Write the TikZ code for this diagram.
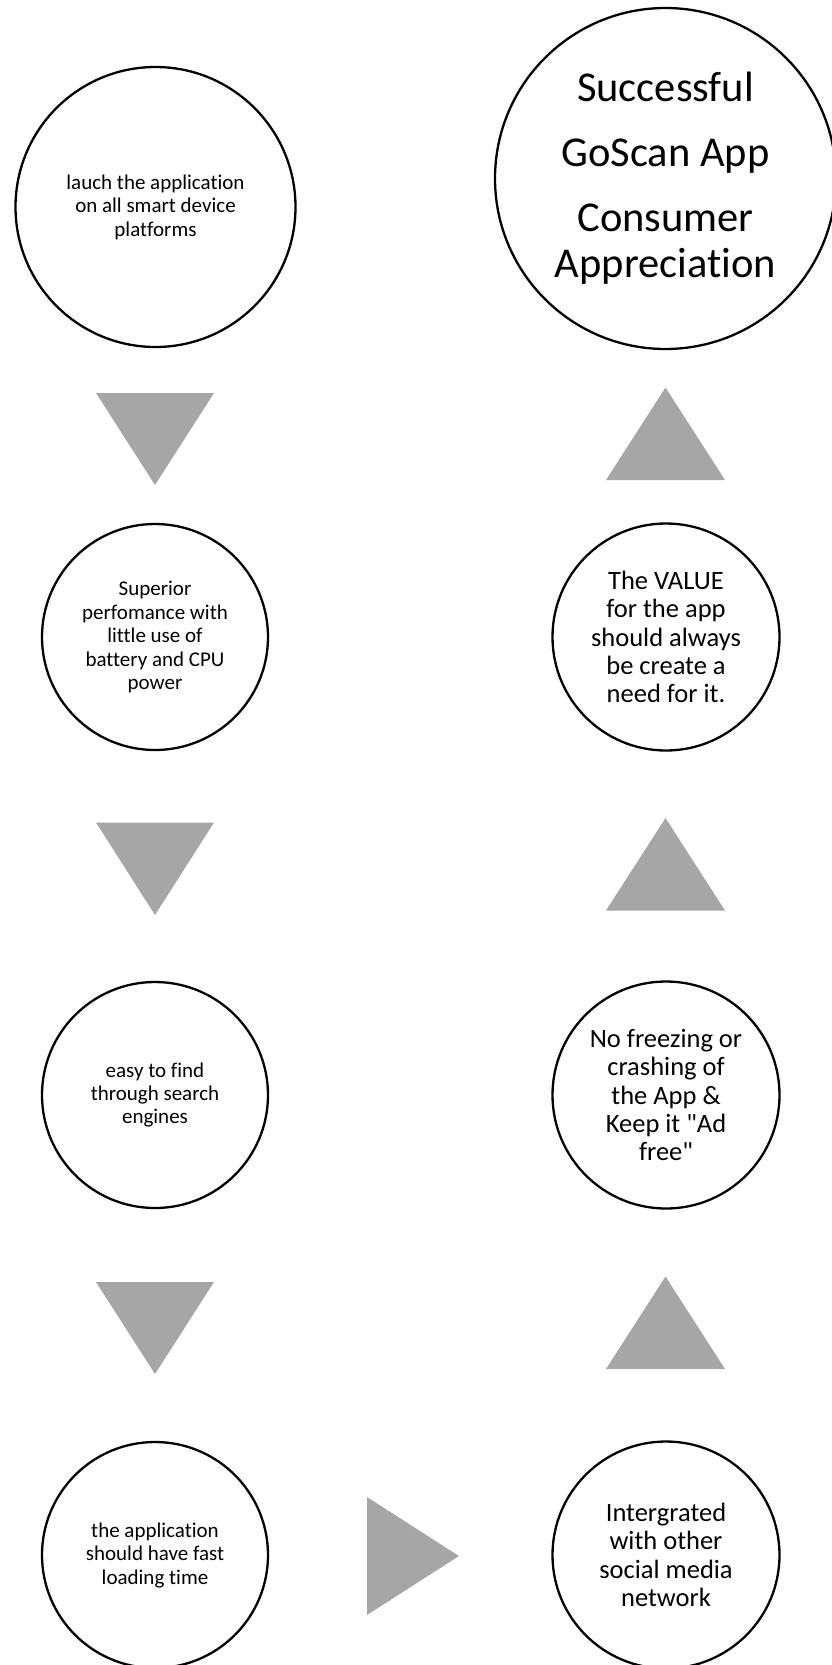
\documentclass[tikz,border=0pt]{standalone}
\usepackage{fontspec}
\setmainfont{Carlito}[Ligatures={NoCommon}]
\definecolor{arrowgray}{RGB}{166,166,166}
\begin{document}
\begin{tikzpicture}[x=1pt,y=-1pt,
  bubble/.style={circle, draw=black, line width=2.3pt, inner sep=0pt, align=center},
  smalltext/.style={font=\fontsize{21}{23.5}\selectfont},
  midtext/.style={font=\fontsize{26.5}{28.4}\selectfont},
  arrowfill/.style={fill=arrowgray}]
\useasboundingbox (0,0) rectangle (832,1665);
% left column
\node[bubble, minimum size=280pt, smalltext] (l1) at (155.5,207) {lauch the application\\on all smart device\\platforms};
\node[bubble, minimum size=226pt, smalltext] (l2) at (155,637) {Superior\\perfomance with\\little use of\\battery and CPU\\power};
\node[bubble, minimum size=226pt, smalltext] (l3) at (155,1095) {easy to find\\through search\\engines};
\node[bubble, minimum size=226pt, smalltext] (l4) at (155,1555) {the application\\should have fast\\loading time};
% right column
\node[bubble, minimum size=341pt, font=\fontsize{42.5}{46.5}\selectfont] (r1) at (665.5,178.5) {Successful\\[18pt]GoScan App\\[18.5pt]Consumer\\Appreciation};
\node[bubble, minimum size=227pt, midtext] (r2) at (666,637) {The VALUE\\for the app\\should always\\be create a\\need for it.};
\node[bubble, minimum size=227pt, midtext] (r3) at (666,1095) {No freezing or\\crashing of\\the App \&\\Keep it \textquotedbl Ad\\free\textquotedbl};
\node[bubble, minimum size=227pt, midtext] (r4) at (666,1555) {Intergrated\\with other\\social media\\network};
% down arrows (left)
\fill[arrowfill] (96,393) -- (214,393) -- (155,485) -- cycle;
\fill[arrowfill] (96,822.5) -- (214,822.5) -- (155,915) -- cycle;
\fill[arrowfill] (96,1282) -- (214,1282) -- (155,1374) -- cycle;
% right arrow (bottom)
\fill[arrowfill] (367,1497) -- (367,1615) -- (459,1556) -- cycle;
% up arrows (right)
\fill[arrowfill] (606,480) -- (725,480) -- (665.5,387.5) -- cycle;
\fill[arrowfill] (606,910.5) -- (725,910.5) -- (665.5,818) -- cycle;
\fill[arrowfill] (606,1369) -- (725,1369) -- (665.5,1276.5) -- cycle;
\end{tikzpicture}
\end{document}
